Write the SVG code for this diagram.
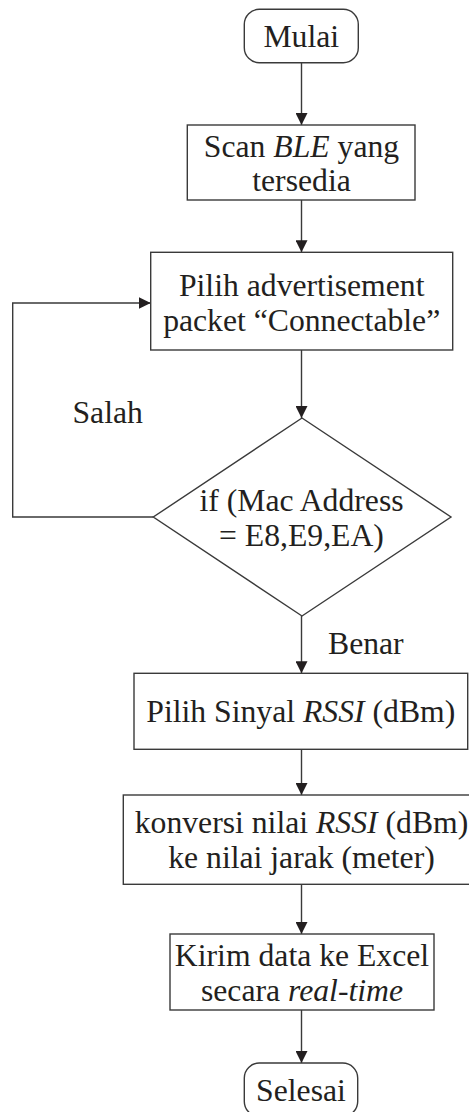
<svg xmlns="http://www.w3.org/2000/svg" width="469" height="1112" viewBox="0 0 469 1112">
<style>
.shape{fill:#ffffff;stroke:#3a3a3a;stroke-width:1.4}
.t{font-family:"Liberation Serif","Times New Roman",serif;font-size:31.7px;fill:#231f20;text-anchor:middle}
.s{font-family:"Liberation Serif","Times New Roman",serif;font-size:31.7px;fill:#231f20}
.i{font-style:italic}
.con{fill:none;stroke:#3a3a3a;stroke-width:1.4}
</style>
<defs>
<marker id="arr" markerUnits="userSpaceOnUse" markerWidth="12" markerHeight="12" refX="12" refY="6" orient="auto">
<path d="M0,0 L12,6 L0,12 z" fill="#231f20"/>
</marker>
</defs>
<rect width="469" height="1112" fill="#ffffff"/>
<g id="connectors">
<line class="con" x1="301.5" y1="62.7" x2="301.5" y2="125" marker-end="url(#arr)"/>
<line class="con" x1="301.5" y1="200" x2="301.5" y2="252.3" marker-end="url(#arr)"/>
<line class="con" x1="301.5" y1="350" x2="301.5" y2="418" marker-end="url(#arr)"/>
<polyline class="con" points="153.3,517 12.7,517 12.7,303 150.7,303" marker-end="url(#arr)"/>
<line class="con" x1="301.5" y1="616" x2="301.5" y2="673.3" marker-end="url(#arr)"/>
<line class="con" x1="301.5" y1="749.3" x2="301.5" y2="795" marker-end="url(#arr)"/>
<line class="con" x1="301.5" y1="884.3" x2="301.5" y2="934" marker-end="url(#arr)"/>
<line class="con" x1="301.5" y1="1010" x2="301.5" y2="1063" marker-end="url(#arr)"/>
<text class="s" x="72.5" y="422.7">Salah</text>
<text class="s" x="328" y="654">Benar</text>
</g>
<g id="mulai">
<rect class="shape" x="244.3" y="9.3" width="114" height="53.4" rx="15" ry="15"/>
<text class="t" x="301.3" y="47">Mulai</text>
</g>
<g id="scan">
<rect class="shape" x="187.3" y="125" width="227.7" height="75"/>
<text class="t" x="301.5" y="157">Scan <tspan class="i">BLE</tspan> yang</text>
<text class="t" x="301.5" y="190.5">tersedia</text>
</g>
<g id="pilih-packet">
<rect class="shape" x="150.7" y="252.3" width="302" height="97.7"/>
<text class="t" x="301.7" y="295.5">Pilih advertisement</text>
<text class="t" x="301.7" y="330.5">packet “Connectable”</text>
</g>
<g id="decision">
<polygon class="shape" points="302,418 451,517 302,616 153.3,517"/>
<text class="t" x="301.5" y="510.5">if (Mac Address</text>
<text class="t" x="301.5" y="545.5">= E8,E9,EA)</text>
</g>
<g id="pilih-rssi">
<rect class="shape" x="134" y="673.3" width="333.7" height="76"/>
<text class="t" x="300.8" y="721.5">Pilih Sinyal <tspan class="i">RSSI</tspan> (dBm)</text>
</g>
<g id="konversi">
<rect class="shape" x="123.3" y="795" width="357" height="89.3"/>
<text class="t" x="301.5" y="833.3">konversi nilai <tspan class="i">RSSI</tspan> (dBm)</text>
<text class="t" x="301.5" y="868.3">ke nilai jarak (meter)</text>
</g>
<g id="kirim">
<rect class="shape" x="170" y="934" width="264" height="76"/>
<text class="t" x="302" y="965.5">Kirim data ke Excel</text>
<text class="t" x="302" y="1000.5">secara <tspan class="i">real-time</tspan></text>
</g>
<g id="selesai">
<rect class="shape" x="244.3" y="1063" width="113.4" height="53.4" rx="15" ry="15"/>
<text class="t" x="301" y="1100.5">Selesai</text>
</g>
</svg>
